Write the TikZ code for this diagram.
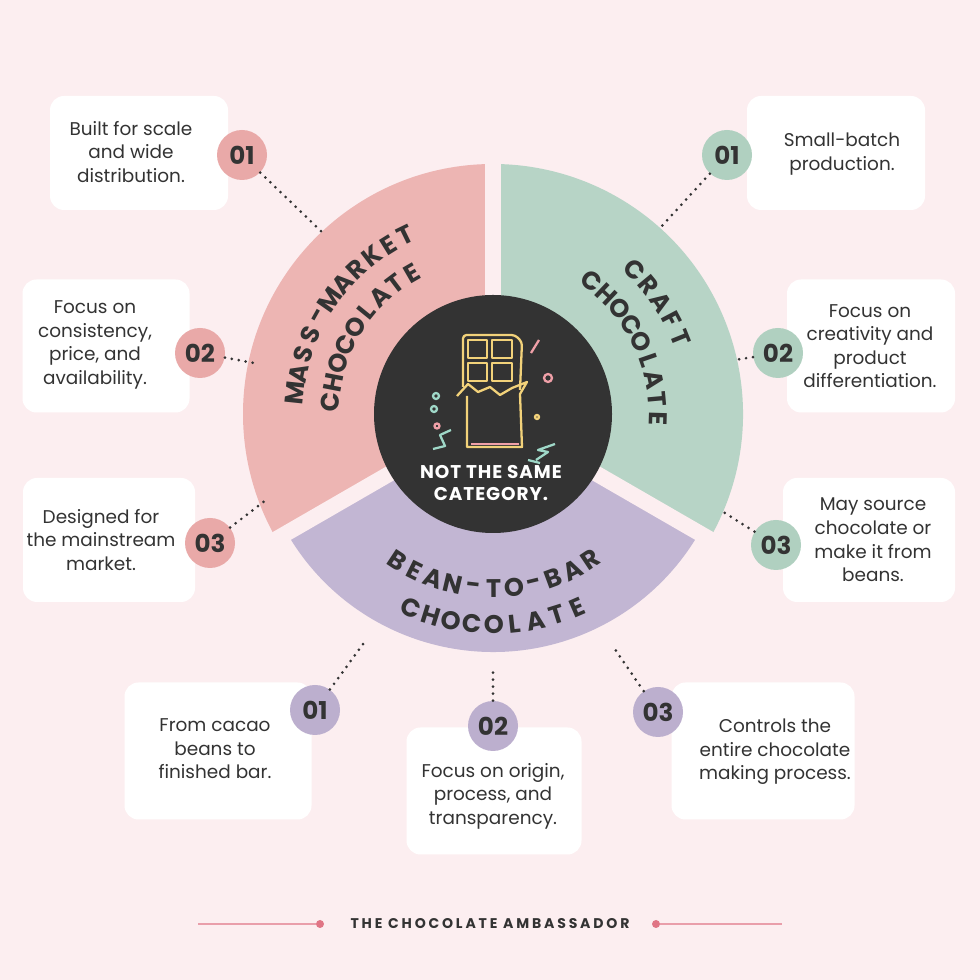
\documentclass[tikz,border=0pt]{standalone}
\usepackage{fontspec}
\setmainfont{Poppins}
\usetikzlibrary{positioning}
\definecolor{bgpink}{HTML}{FCEEF0}
\definecolor{segpink}{HTML}{EDB5B3}
\definecolor{seggreen}{HTML}{B7D4C6}
\definecolor{segpurple}{HTML}{C2B6D3}
\definecolor{badpink}{HTML}{E9A9A8}
\definecolor{badgreen}{HTML}{B0D0C0}
\definecolor{badpurple}{HTML}{BCAFCE}
\definecolor{ink}{HTML}{333333}
\definecolor{dotred}{HTML}{E07585}
\definecolor{icyellow}{HTML}{F2D27A}
\definecolor{icpink}{HTML}{F0A0A8}
\definecolor{icmint}{HTML}{9FD8C8}
\tikzset{
  box/.style={draw=none,fill=white,rounded corners=14*0.02cm,minimum width=#1},
  body/.style={font=\fontsize{10.5}{13.4}\selectfont,text=ink,align=center},
  badge/.style={circle,fill=#1,minimum size=50*0.02cm,inner sep=0pt,
    font=\fontsize{14}{14}\selectfont\bfseries,text=ink},
  seglabel/.style={font=\fontsize{14.5}{15}\selectfont\bfseries,text=ink,inner sep=0pt},
  dots/.style={ink,line width=1.7pt,dash pattern=on 0pt off 4pt,line cap=round},
  gap/.style={bgpink,line width=9pt}
}
% letters placed one by one along an arc round ctr
\newcommand\arcword[5]{%
  \foreach \ch [count=\i from 0] in {#5}
    \node[seglabel,rotate={#2+\i*(#3)+#4}] at ([shift={({#2+\i*(#3)}:#1)}]ctr) {\ch};}
\begin{document}
\begin{tikzpicture}[x=0.02cm,y=0.02cm]
  \fill[bgpink] (0,0) rectangle (980,980);
  \coordinate (ctr) at (493,566);

  % ring
  \fill[segpink] (ctr) -- ++(90:250) arc (90:210:250) -- cycle;
  \fill[seggreen] (ctr) -- ++(-30:250) arc (-30:90:250) -- cycle;
  \fill[segpurple] (ctr) -- ++(210:238) arc (210:330:238) -- cycle;
  \draw[gap] (ctr) -- ++(90:260);
  \draw[gap] (ctr) -- ++(210:260);
  \draw[gap] (ctr) -- ++(330:260);

  \arcword{199}{174}{-5.8}{-90}{M,A,S,S,-,M,A,R,K,E,T}
  \arcword{163}{176}{-7}{-90}{C,H,O,C,O,L,A,T,E}
  \arcword{202}{45.4}{-5.85}{-90}{C,R,A,F,T}
  \arcword{165}{53.5}{-6.9}{-90}{C,H,O,C,O,L,A,T,E}
  \arcword{175}{236.7}{6.7}{90}{B,E,A,N,-,T,O,-,B,A,R}
  \arcword{211}{247}{5.8}{90}{C,H,O,C,O,L,A,T,E}

  % centre
  \node (hub) [circle,fill=ink,minimum size=238*0.02cm] at (ctr) {};
  \node (hubtext) [font=\fontsize{10.5}{13}\selectfont\bfseries\addfontfeatures{LetterSpace=5},
    text=white,align=center] at (491,497) {NOT THE SAME\\CATEGORY.};
  % chocolate bar icon
  \begin{scope}[line width=1.3pt,line join=round]
    \draw[icyellow,rounded corners=2pt] (463,593) -- (463,645) -- (515,645) -- (522,638) -- (520,590);
    \draw[icyellow] (468,640) rectangle (487,622) (492,640) rectangle (512,622)
      (468,617) rectangle (487,599) (492,617) rectangle (512,599);
    \draw[icyellow] (457,584) -- (468,596) -- (478,588) -- (490,593) -- (500,585) -- (512,592) -- (527,598) -- (520,586)
      -- (522,533) -- (467,533) -- (467,584);
    \draw[icpink] (471,536) -- (519,536);
    \draw[icpink] (531,627) -- (539,640);
    \draw[icmint] (436,584) circle (3) (434,571) circle (3) (433,531) -- (445,534) -- (440,545) -- (451,550);
    \draw[icpink] (548,602) circle (4) (437,554) circle (2.5);
    \draw[icmint] (536,520) -- (548,528) -- (538,530) -- (555,536) (528,520) -- (540,517);
    \draw[icyellow] (537,563) circle (2);
  \end{scope}

  % boxes
  \node (p1) [box=178*0.02cm,minimum height=114*0.02cm] at (139,827) {};
  \node (p2) [box=167*0.02cm,minimum height=133*0.02cm] at (106,634) {};
  \node (p3) [box=172*0.02cm,minimum height=124*0.02cm] at (109,440) {};
  \node (g1) [box=178*0.02cm,minimum height=114*0.02cm] at (836,827) {};
  \node (g2) [box=168*0.02cm,minimum height=133*0.02cm] at (871,634) {};
  \node (g3) [box=172*0.02cm,minimum height=124*0.02cm] at (869,440) {};
  \node (b1) [box=187*0.02cm,minimum height=137*0.02cm] at (218,229) {};
  \node (b2) [box=175*0.02cm,minimum height=127*0.02cm] at (494,189) {};
  \node (b3) [box=183*0.02cm,minimum height=137*0.02cm] at (763,229) {};

  \node (tp1) [body] at (131,828) {Built for scale\\and wide\\distribution.};
  \node (tp2) [body] at (95,635) {Focus on\\consistency,\\price, and\\availability.};
  \node (tp3) [body] at (101,440) {Designed for\\the mainstream\\market.};
  \node (tg1) [body] at (842,826) {Small-batch\\production.};
  \node (tg2) [body] at (870,634) {Focus on\\creativity and\\product\\differentiation.};
  \node (tg3) [body] at (873,440) {May source\\chocolate or\\make it from\\beans.};
  \node (tb1) [body] at (215,231) {From cacao\\beans to\\finished bar.};
  \node (tb2) [body] at (493,184) {Focus on origin,\\process, and\\transparency.};
  \node (tb3) [body] at (775,228) {Controls the\\entire chocolate\\making process.};

  % badges
  \node (np1) [badge=badpink] at (242,825) {01};
  \node (np2) [badge=badpink] at (200,627) {02};
  \node (np3) [badge=badpink] at (210,437) {03};
  \node (ng1) [badge=badgreen] at (727,825) {01};
  \node (ng2) [badge=badgreen] at (778,627) {02};
  \node (ng3) [badge=badgreen] at (776,435) {03};
  \node (nb1) [badge=badpurple] at (315,270) {01};
  \node (nb2) [badge=badpurple] at (493,254) {02};
  \node (nb3) [badge=badpurple] at (658,268) {03};

  \coordinate (ep1) at (325,745);
  \coordinate (ep2) at (254,617);
  \coordinate (ep3) at (266,480);
  \coordinate (eg1) at (660,752);
  \coordinate (eg2) at (735,620);
  \coordinate (eg3) at (720,470);
  \coordinate (eb1) at (366,340);
  \coordinate (eb2) at (493,312);
  \coordinate (eb3) at (612,335);
  \draw[dots] (np1) -- (ep1);
  \draw[dots] (np2) -- (ep2);
  \draw[dots] (np3) -- (ep3);
  \draw[dots] (ng1) -- (eg1);
  \draw[dots] (ng2) -- (eg2);
  \draw[dots] (ng3) -- (eg3);
  \draw[dots] (nb1) -- (eb1);
  \draw[dots] (nb2) -- (eb2);
  \draw[dots] (nb3) -- (eb3);

  % footer
  \node (foot) [font=\fontsize{8}{8}\selectfont\bfseries\addfontfeatures{LetterSpace=20},text=ink]
    at (490,56) {THE CHOCOLATE AMBASSADOR};
  \node (fdl) [circle,fill=dotred,inner sep=0pt,minimum size=8*0.02cm] at (320,56) {};
  \node (fdr) [circle,fill=dotred,inner sep=0pt,minimum size=8*0.02cm] at (656,56) {};
  \coordinate (fl) at (198,56);
  \coordinate (fr) at (782,56);
  \draw[dotred!70,line width=0.7pt] (fl) -- (fdl);
  \draw[dotred!70,line width=0.7pt] (fdr) -- (fr);
\end{tikzpicture}
\end{document}
